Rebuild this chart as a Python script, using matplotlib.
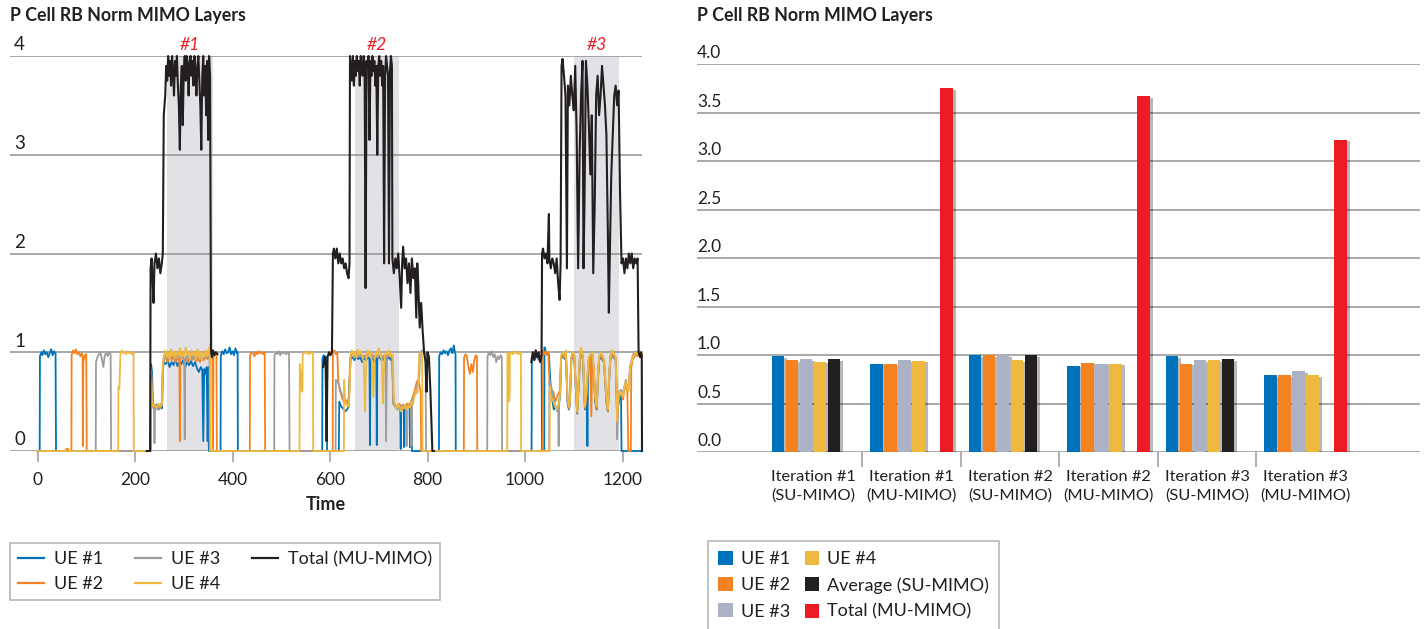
import numpy as np
import matplotlib
matplotlib.use("Agg")
import matplotlib.pyplot as plt
from matplotlib.lines import Line2D
from matplotlib.patches import Patch
import matplotlib.patheffects as pe

plt.rcParams['font.family'] = ['Lato', 'DejaVu Sans']

# ---------------- left panel: per-UE layer traces, (time, layers) ----------------
ue1_trace = [
    (0, 0), (4.5, 0), (5, 0.96), (8, 1.0), (10, 0.97), (13, 1.02), (16, 0.98), (19, 1.0), (22, 0.95),
    (25, 0.99), (28, 1.03), (31, 0.97), (34, 1.01), (37, 0.99), (38, 0),
    (232, 0), (233, 0.88), (235, 0.8), (236.5, 0.5), (240, 0.44), (244, 0.47), (248, 0.42), (252, 0.45),
    (255, 0.43), (257, 0.8), (259, 0.9), (263, 0.88), (267, 0.92), (271, 0.85), (275, 0.9), (279, 0.87),
    (283, 0.93), (287, 0.86), (291, 0.9), (295, 0.88), (299, 0.92), (303, 0.85), (307, 0.9), (311, 0.87),
    (315, 0.91), (319, 0.86), (323, 0.9), (327, 0.84), (331, 0.8), (335, 0.85), (338, 0.82), (340, 0.1),
    (342, 0.83), (345, 0.78), (347, 0.85), (349, 0.1), (350.5, 0.85), (351.5, 0),
    (375.5, 0), (376, 0.97), (379, 1.01), (382, 0.98), (385, 1.03), (388, 0.99), (391, 1.0), (394, 1.05),
    (397, 0.98), (400, 1.01), (403, 0.97), (406, 1.04), (409, 0.99), (410.5, 1.0), (411, 0),
    (584, 0), (584.5, 0.93), (587, 0.97), (589, 0.9), (591, 0.96), (593, 0.92), (594, 0),
    (618, 0), (619, 0.5), (623, 0.45), (627, 0.43), (631, 0.4), (635, 0.42), (638, 0.45), (640, 0.7),
    (642, 0.93), (646, 0.95), (650, 0.92), (654, 0.96), (658, 0.93), (662, 0.95), (666, 0.9), (670, 0.94),
    (674, 0.92), (678, 0.95), (681, 0.93), (682, 0.06), (683, 0.92), (687, 0.95), (691, 0.9), (695, 0.94),
    (696, 0.06), (697, 0.93), (701, 0.96), (705, 0.92), (709, 0.94), (713, 0.9), (717, 0.93), (721, 0.95),
    (725, 0.92), (728, 0.94), (730, 0.48), (734, 0.45), (738, 0.42), (742, 0.46), (744, 0.44), (745, 0.02),
    (746, 0.45), (749, 0.43), (751, 0.46), (752, 0.04), (753, 0.45), (757, 0.44), (761, 0.47), (763, 0.45),
    (764, 0.04), (765, 0.46), (767, 0.48), (768, 0),
    (823.5, 0), (824, 0.96), (827, 1.0), (830, 0.98), (833, 1.02), (836, 0.99), (839, 1.01), (842, 0.97),
    (845, 1.02), (848, 1.04), (851, 0.99), (854, 1.07), (856, 1.0), (857.5, 0.98), (858, 0),
    (1013.5, 0), (1014, 0.95), (1017, 0.98), (1020, 0.93), (1023, 0.97), (1026, 0.95), (1029, 0.92),
    (1032, 0.96), (1034, 0.95), (1035, 0), (1039.5, 0), (1040, 1.05), (1043, 1.0), (1046, 0.97),
    (1049, 0.98), (1052, 0.7), (1055, 0.55), (1059, 0.42), (1063, 0.45), (1067, 0.4), (1070, 0.5),
    (1072, 0.55), (1074, 0.93), (1078, 0.96), (1082, 0.93), (1084, 0.97), (1087, 0.5), (1090, 0.42),
    (1092, 0.47), (1095, 0.92), (1098, 0.96), (1101, 0.95), (1104, 0.65), (1107, 0.38), (1110, 0.65),
    (1113, 0.95), (1115, 1.0), (1119, 0.92), (1121, 0.65), (1123, 0.42), (1126, 0.55), (1127, 0.7),
    (1128, 0.05), (1129, 0.7), (1131, 0.92), (1134, 0.94), (1138, 0.96), (1141, 0.8), (1144, 0.5),
    (1147, 0.42), (1150, 0.75), (1152, 0.92), (1155, 0.96), (1158, 0.93), (1162, 0.9), (1165, 0.65),
    (1167, 0.5), (1170, 0.4), (1173, 0.75), (1175, 0.92), (1178, 0.96), (1180, 0.98), (1183, 0.94),
    (1186, 0.92), (1188, 0.55), (1189, 0.28), (1191, 0.45), (1194, 0.55), (1197, 0.55), (1198, 0),
    (1240, 0),
]

ue2_trace = [
    (0, 0), (57, 0), (59, 0.02), (63, 0.02), (64, 0), (69.5, 0), (70, 0.97), (73, 1.02), (76, 0.99),
    (79, 1.03), (82, 0.98), (85, 1.0), (88, 0.96), (91, 0.99), (92.5, 0.95), (93, 0.05), (94, 0.9),
    (97, 0.97), (100, 0.98), (101, 0),
    (232, 0), (233, 0.82), (235, 0.6), (236.5, 0.47), (240, 0.45), (244, 0.43), (248, 0.46), (252, 0.44),
    (255, 0.47), (257, 0.82), (259, 0.93), (263, 0.95), (267, 0.9), (271, 0.97), (275, 0.92), (279, 0.96),
    (283, 0.9), (287, 0.94), (291, 0.92), (292, 0.1), (293, 0.93), (297, 0.97), (301, 0.91), (305, 0.95),
    (309, 0.9), (313, 0.96), (317, 0.92), (321, 0.97), (325, 0.91), (329, 0.94), (333, 0.9), (337, 0.95),
    (341, 0.92), (345, 0.96), (349, 0.93), (353, 0.98), (356, 1.0), (359, 0.97), (360, 0.02), (361, 0.95),
    (364, 1.0), (367, 0.98), (368, 0),
    (435.5, 0), (436, 0.97), (439, 1.0), (442, 0.99), (445, 0.96), (448, 1.0), (451, 0.98), (454, 1.01),
    (457, 0.99), (460, 1.0), (463, 0.98), (466, 1.0), (467, 0),
    (605.5, 0), (606, 1.0), (609, 1.02), (612, 0.98), (615, 1.0), (617, 0.7), (620, 0.62), (624, 0.55),
    (628, 0.5), (632, 0.52), (636, 0.48), (639, 0.55), (641, 0.9), (643, 0.97), (647, 0.98), (651, 0.95),
    (655, 0.99), (659, 0.96), (663, 1.0), (667, 0.94), (671, 0.97), (675, 0.95), (679, 0.99), (683, 0.96),
    (687, 0.98), (691, 0.93), (695, 0.97), (699, 0.95), (703, 0.99), (707, 0.94), (711, 0.97), (715, 0.95),
    (719, 0.98), (723, 0.96), (727, 0.97), (730, 0.5), (734, 0.47), (738, 0.44), (742, 0.48), (746, 0.45),
    (750, 0.47), (754, 0.44), (758, 0.48), (762, 0.46), (766, 0.5), (770, 0.55), (774, 0.62), (778, 0.7),
    (781, 0.72), (784, 0.65), (786, 0.6), (787, 0),
    (874.5, 0), (875, 0.95), (878, 0.98), (881, 0.95), (884, 0.85), (887, 0.78), (890, 0.88), (893, 0.8),
    (896, 0.92), (899, 0.97), (901.5, 0.96), (902, 0),
    (1036.5, 0), (1037, 1.02), (1040, 0.98), (1043, 1.01), (1046, 0.97), (1048, 1.0), (1050, 0.7),
    (1054, 0.62), (1058, 0.6), (1062, 0.5), (1066, 0.55), (1070, 0.6), (1072, 0.6), (1074, 0.94),
    (1078, 0.97), (1082, 0.94), (1084, 0.98), (1087, 0.53), (1090, 0.43), (1092, 0.48), (1095, 0.93),
    (1098, 0.97), (1101, 0.96), (1104, 0.66), (1107, 0.39), (1110, 0.66), (1113, 0.97), (1115, 1.01),
    (1119, 0.93), (1121, 0.66), (1123, 0.43), (1126, 0.56), (1128, 0.72), (1131, 0.93), (1134, 0.95),
    (1136, 0.35), (1138, 0.97), (1141, 0.82), (1144, 0.52), (1147, 0.43), (1150, 0.77), (1152, 0.93),
    (1155, 0.97), (1158, 0.95), (1162, 0.9), (1165, 0.67), (1167, 0.52), (1170, 0.4), (1173, 0.77),
    (1175, 0.93), (1178, 0.97), (1180, 0.99), (1183, 0.95), (1186, 0.93), (1188, 0.57), (1189, 0.29),
    (1191, 0.47), (1193, 0.57), (1197, 0.57), (1201, 0.52), (1204, 0.62), (1207, 0.67), (1210, 0.59),
    (1212, 0), (1217, 0), (1218, 0.84), (1221, 0.93), (1224, 0.95), (1227, 0.98), (1230, 0.96),
    (1234, 0.98), (1238, 0.95), (1240, 0.97),
]

ue3_trace = [
    (0, 0), (119.5, 0), (120, 0.9), (123, 0.95), (126, 0.98), (129, 1.0), (132, 0.93), (135, 0.85),
    (138, 0.97), (141, 0.99), (144, 0.96), (147, 1.0), (150, 0.98), (151, 0),
    (232, 0), (233, 0.8), (236, 0.45), (239, 0.42), (240, 0.08), (241, 0.4), (244, 0.45), (248, 0.43),
    (252, 0.46), (256, 0.5), (258, 0.9), (263, 0.97), (267, 0.93), (271, 0.98), (275, 0.94), (279, 0.99),
    (283, 0.93), (287, 0.97), (291, 0.95), (295, 0.98), (299, 0.94), (301, 0.92), (302, 0.12), (303, 0.93),
    (307, 0.97), (311, 0.94), (315, 0.98), (319, 0.93), (323, 0.97), (327, 0.95), (331, 0.99), (335, 0.93),
    (339, 0.96), (343, 0.94), (347, 0.97), (351, 0.95), (353, 0.96), (353.5, 0),
    (485.5, 0), (486, 0.97), (489, 1.0), (492, 0.98), (495, 1.01), (498, 0.97), (501, 1.0), (504, 0.99),
    (507, 1.0), (510, 0.98), (513, 1.0), (516, 0.99), (517, 0),
    (611.5, 0), (612, 0.72), (616, 0.7), (619, 0.66), (622, 0.6), (626, 0.55), (630, 0.5), (634, 0.48),
    (638, 0.52), (640, 0.65), (642, 0.95), (646, 0.98), (650, 0.94), (654, 0.97), (658, 0.95), (662, 0.99),
    (666, 0.94), (670, 0.96), (674, 0.93), (678, 0.98), (682, 0.95), (686, 0.97), (690, 0.94), (694, 0.98),
    (698, 0.95), (702, 0.97), (706, 0.94), (710, 0.96), (714, 0.93), (715, 0.1), (716.5, 0.94), (720, 0.97),
    (724, 0.95), (728, 0.96), (730, 0.5), (734, 0.45), (738, 0.43), (742, 0.46), (746, 0.44), (750, 0.47),
    (754, 0.43), (756, 0.45), (757, 0.05), (758, 0.45), (762, 0.46), (766, 0.48), (767, 0.05), (768, 0.5),
    (772, 0.55), (776, 0.6), (780, 0.68), (783, 0.75), (785, 1.0), (789, 1.02), (793, 0.98), (796, 1.0),
    (797, 0),
    (922.5, 0), (923, 0.95), (926, 1.0), (929, 0.97), (932, 1.01), (935, 0.95), (938, 0.98), (941, 0.9),
    (944, 0.96), (947, 0.93), (950, 0.97), (952.5, 0.95), (953, 0),
    (1049.5, 0), (1050, 0.7), (1054, 0.65), (1058, 0.55), (1062, 0.45), (1066, 0.42), (1068, 0.4),
    (1069, 0.05), (1070, 0.45), (1072, 0.6), (1074, 0.96), (1078, 1.0), (1082, 0.97), (1084, 1.01),
    (1087, 0.56), (1090, 0.46), (1092, 0.51), (1095, 0.96), (1098, 1.0), (1101, 0.98), (1104, 0.7),
    (1107, 0.42), (1110, 0.7), (1113, 0.99), (1115, 1.02), (1119, 0.96), (1121, 0.7), (1123, 0.46),
    (1126, 0.6), (1128, 0.75), (1131, 0.95), (1134, 0.97), (1138, 1.0), (1141, 0.85), (1144, 0.56),
    (1147, 0.46), (1150, 0.8), (1152, 0.95), (1155, 1.0), (1158, 0.97), (1162, 0.93), (1165, 0.7),
    (1167, 0.56), (1170, 0.43), (1173, 0.8), (1175, 0.96), (1178, 1.0), (1180, 1.01), (1183, 0.97),
    (1186, 0.95), (1188, 0.6), (1189, 0.12), (1191, 0.5), (1193, 0.6), (1197, 0.62), (1201, 0.57),
    (1204, 0.66), (1207, 0.72), (1210, 0.63), (1212, 0.62), (1214, 0.77), (1216, 0.87), (1219, 0.92),
    (1221, 0.97), (1224, 0.99), (1227, 1.01), (1230, 0.99), (1234, 1.01), (1238, 0.98), (1240, 1.0),
]

ue4_trace = [
    (0, 0), (165.5, 0), (166, 0.65), (168, 0.63), (170, 0.98), (173, 1.02), (176, 0.99), (179, 1.0),
    (182, 0.98), (185, 1.01), (188, 0.99), (191, 1.0), (194, 0.98), (197, 1.0), (197.5, 0),
    (232, 0), (233, 0.7), (235, 0.5), (237, 0.45), (240, 0.47), (244, 0.44), (248, 0.48), (252, 0.45),
    (255, 0.47), (257, 0.85), (259, 0.97), (262, 1.02), (265, 0.95), (268, 1.0), (271, 0.93), (274, 1.03),
    (277, 0.96), (280, 1.01), (283, 0.94), (286, 1.0), (289, 0.97), (292, 1.04), (295, 0.95), (298, 1.0),
    (301, 0.96), (304, 1.05), (307, 0.97), (310, 1.0), (313, 0.94), (316, 1.02), (319, 0.97), (322, 1.0),
    (325, 0.93), (328, 1.03), (331, 0.96), (334, 1.01), (337, 0.92), (340, 1.0), (343, 0.95), (346, 1.02),
    (349, 0.96), (352, 1.04), (354, 1.08), (354.5, 0),
    (537.5, 0), (538, 0.88), (540, 0.8), (542, 0.6), (543.5, 0.62), (544, 0.98), (547, 1.0), (550, 0.99),
    (553, 1.01), (556, 0.98), (559, 1.0), (562, 0.99), (565, 1.0), (565.5, 0),
    (628.5, 0), (629, 0.72), (631, 0.5), (634, 0.47), (637, 0.45), (640, 0.55), (642, 0.97), (645, 1.02),
    (648, 0.96), (651, 1.0), (654, 0.95), (657, 1.03), (660, 0.98), (663, 1.01), (666, 0.96), (669, 0.9),
    (671, 0.6), (672, 0.4), (673, 0.7), (675, 0.97), (678, 1.02), (681, 0.96), (684, 1.0), (687, 0.85),
    (689, 0.55), (691, 0.9), (694, 1.0), (697, 0.97), (700, 1.04), (703, 0.98), (706, 0.93), (708, 0.6),
    (709, 0.48), (710, 0.75), (712, 0.95), (715, 1.0), (718, 0.97), (721, 1.02), (724, 0.96), (727, 0.98),
    (729, 0.97), (731, 0.5), (734, 0.46), (737, 0.42), (740, 0.47), (743, 0.44), (746, 0.4), (749, 0.45),
    (752, 0.43), (755, 0.47), (758, 0.42), (761, 0.46), (764, 0.44), (767, 0.5), (770, 0.47), (773, 0.55),
    (776, 0.62), (779, 0.58), (781, 0.7), (783, 0.98), (786, 1.0), (789, 0.97), (790, 0),
    (963.5, 0), (964, 1.0), (966, 0.95), (967, 0.5), (968.5, 0.55), (969, 0.98), (972, 1.0), (975, 0.98),
    (978, 1.01), (981, 0.99), (984, 1.0), (987, 0.98), (990, 1.0), (991.5, 1.0), (992, 0),
    (1050.5, 0), (1051, 0.65), (1054, 0.55), (1058, 0.5), (1062, 0.45), (1066, 0.42), (1070, 0.5),
    (1072, 0.6), (1074, 0.97), (1078, 1.0), (1082, 0.96), (1084, 1.02), (1087, 0.55), (1090, 0.45),
    (1092, 0.5), (1095, 0.95), (1098, 1.0), (1101, 0.98), (1104, 0.7), (1107, 0.4), (1110, 0.7),
    (1113, 1.0), (1115, 1.05), (1119, 0.95), (1121, 0.7), (1123, 0.45), (1126, 0.6), (1128, 0.75),
    (1131, 0.95), (1134, 0.97), (1138, 1.0), (1141, 0.85), (1144, 0.55), (1147, 0.45), (1150, 0.8),
    (1152, 0.95), (1155, 1.0), (1158, 0.97), (1162, 0.92), (1165, 0.7), (1167, 0.55), (1170, 0.42),
    (1173, 0.8), (1175, 0.95), (1178, 1.0), (1180, 1.02), (1183, 0.97), (1186, 0.95), (1188, 0.6),
    (1189, 0.3), (1191, 0.5), (1193, 0.6), (1197, 0.6), (1201, 0.55), (1204, 0.65), (1207, 0.7),
    (1210, 0.62), (1212, 0.6), (1214, 0.75), (1216, 0.85), (1219, 0.9), (1221, 0.95), (1224, 0.97),
    (1227, 1.0), (1230, 0.98), (1234, 1.0), (1238, 0.97), (1240, 1.0),
]

# total layers, logged only while the MU-MIMO runs are active
total_run1 = [
    (224, 0), (231, 0), (232, 1.85), (234, 1.95), (236, 1.75), (238, 1.5), (240, 1.9), (243, 2.0),
    (246, 1.85), (249, 1.95), (252, 1.8), (255, 1.9), (257, 2.0), (259, 3.4), (262, 3.6), (264, 3.9),
    (266, 3.75), (268, 4.0), (270, 3.8), (272, 3.95), (274, 3.7), (276, 4.0), (278, 3.85), (280, 3.6),
    (282, 3.95), (284, 3.8), (286, 4.0), (288, 3.7), (290, 3.5), (292, 3.05), (294, 3.7), (296, 3.9),
    (298, 3.3), (300, 3.85), (302, 4.0), (304, 3.75), (306, 4.0), (308, 3.9), (310, 3.6), (312, 3.95),
    (314, 4.0), (316, 3.8), (318, 3.95), (320, 3.7), (322, 4.0), (324, 3.85), (326, 3.6), (328, 3.9),
    (330, 4.0), (332, 3.75), (334, 3.5), (336, 3.05), (338, 3.8), (340, 4.0), (342, 3.6), (344, 3.9),
    (346, 3.4), (348, 3.95), (350, 3.15), (352, 4.0), (354, 3.8), (356, 1.0), (358, 0.95), (360, 1.02),
    (363, 0.97), (366, 1.0), (369, 0.98),
]
total_run2 = [
    (586, 0.85), (589, 0.95), (591, 0.9), (593, 0.1), (595, 0.95), (598, 1.0), (601, 0.97), (604, 1.0),
    (606, 2.0), (608, 2.05), (611, 1.95), (614, 2.05), (617, 1.9), (620, 2.0), (623, 1.9), (626, 1.95),
    (629, 1.85), (632, 1.9), (635, 1.8), (638, 1.75), (640, 1.9), (641, 4.0), (643, 3.9), (645, 3.75),
    (647, 4.0), (649, 3.7), (651, 3.95), (653, 3.8), (655, 4.0), (657, 3.85), (659, 3.95), (661, 3.7),
    (663, 4.0), (665, 3.9), (667, 3.8), (669, 4.0), (671, 3.9), (673, 1.65), (675, 3.95), (677, 3.9),
    (679, 4.0), (681, 3.15), (683, 3.95), (685, 3.8), (687, 4.0), (689, 3.85), (691, 3.95), (693, 3.7),
    (695, 3.9), (697, 3.0), (699, 3.9), (701, 4.0), (703, 3.8), (705, 3.95), (707, 3.7), (709, 3.9),
    (711, 1.9), (713, 3.8), (715, 4.0), (717, 3.9), (719, 3.8), (721, 1.9), (723, 3.85), (725, 4.0),
    (727, 3.9), (728, 1.95), (731, 1.8), (734, 1.95), (737, 1.85), (740, 2.0), (743, 1.75), (746, 1.45),
    (748, 1.9), (750, 2.07), (753, 1.85), (756, 1.95), (759, 1.7), (762, 1.9), (765, 1.6), (768, 1.95),
    (771, 1.75), (774, 1.85), (777, 1.35), (779, 1.9), (781, 1.7), (784, 1.25), (787, 1.5), (790, 1.22),
    (793, 1.0), (796, 0.9), (798, 0.6), (800, 1.0), (803, 0.95), (806, 0.6), (810, 0), (813, 0),
]
total_run3 = [
    (1013, 0.9), (1016, 1.0), (1019, 0.92), (1022, 1.02), (1025, 0.95), (1028, 1.0), (1031, 0.9),
    (1034, 0.97), (1035, 2.0), (1037, 2.05), (1040, 1.95), (1043, 2.0), (1046, 1.9), (1049, 2.4),
    (1050, 1.95), (1053, 1.85), (1056, 1.95), (1059, 1.9), (1062, 1.8), (1065, 1.95), (1068, 1.7),
    (1071, 1.53), (1073, 1.9), (1075, 3.9), (1077, 3.97), (1080, 3.8), (1083, 3.6), (1086, 1.85),
    (1088, 3.7), (1091, 3.5), (1094, 3.8), (1097, 3.6), (1100, 3.45), (1103, 3.9), (1106, 3.2),
    (1109, 1.85), (1112, 3.0), (1115, 3.6), (1118, 3.95), (1120, 1.85), (1122, 2.5), (1125, 3.95),
    (1128, 3.7), (1131, 3.3), (1134, 2.8), (1137, 3.4), (1140, 1.8), (1143, 2.5), (1146, 3.6),
    (1149, 3.8), (1152, 3.4), (1155, 3.6), (1158, 3.9), (1161, 3.7), (1164, 3.5), (1167, 3.2),
    (1170, 2.2), (1172, 1.4), (1174, 2.0), (1177, 2.8), (1180, 3.2), (1183, 3.6), (1186, 3.7),
    (1189, 3.5), (1192, 3.65), (1195, 2.6), (1198, 1.9), (1201, 1.95), (1204, 1.8), (1207, 1.95),
    (1210, 1.85), (1213, 2.0), (1216, 1.9), (1219, 2.0), (1222, 1.85), (1225, 1.95), (1228, 1.9),
    (1231, 1.95), (1233, 1.0), (1236, 0.95), (1238, 1.0), (1239.5, 0.97), (1240, 0.0),
]

mu_windows = [(266, 359), (651, 742), (1101, 1192)]
mu_window_labels = ["#1", "#2", "#3"]
time_ticks = [0, 200, 400, 600, 800, 1000, 1200]
layer_ticks = [0, 1, 2, 3, 4]

# ---------------- right panel: mean layers per iteration ----------------
iteration_labels = [
    "Iteration #1\n(SU-MIMO)", "Iteration #1\n(MU-MIMO)",
    "Iteration #2\n(SU-MIMO)", "Iteration #2\n(MU-MIMO)",
    "Iteration #3\n(SU-MIMO)", "Iteration #3\n(MU-MIMO)",
]
ue1_mean = [0.99, 0.91, 1.00, 0.89, 0.99, 0.79]
ue2_mean = [0.95, 0.91, 1.00, 0.92, 0.91, 0.79]
ue3_mean = [0.96, 0.95, 1.00, 0.91, 0.95, 0.83]
ue4_mean = [0.93, 0.94, 0.95, 0.91, 0.95, 0.79]
su_average = [0.96, None, 1.00, None, 0.96, None]
mu_total = [None, 3.75, None, 3.67, None, 3.22]
bar_ticks = [0.0, 0.5, 1.0, 1.5, 2.0, 2.5, 3.0, 3.5, 4.0]

# ---------------- styling ----------------
C_UE1 = "#0072bc"
C_UE2 = "#f58220"
C_UE3_LINE = "#9d9d9d"
C_UE3_BAR = "#acb2c6"
C_UE4 = "#efb93f"
C_BLACK = "#231f20"
C_RED = "#ed1c24"
C_GRID = "#9a9a9a"
C_SHADE = "#e1e1e6"
C_TEXT = "#231f20"

W, H = 1426, 629
fig = plt.figure(figsize=(W / 100, H / 100), dpi=100)


def fx(px):
    return px / W


def fy(py):
    return 1 - py / H


def px_to_time(px):
    return (px - 37.5) / 0.4875


# ---------------- left panel ----------------
ax1 = fig.add_axes([fx(10), fy(451), (642 - 10) / W, (451 - 56) / H])
ax1.set_xlim(px_to_time(10), px_to_time(642))
ax1.set_ylim(0, 4)
for s in ax1.spines.values():
    s.set_visible(False)

for (a, b), lab in zip(mu_windows, mu_window_labels):
    ax1.axvspan(a, b, color=C_SHADE, lw=0, zorder=0)
    ax1.text((a + b) / 2, 4.03, lab, color=C_RED, style='italic', fontsize=12.5,
             ha='center', va='bottom', clip_on=False)

for v in layer_ticks:
    ax1.axhline(v, color=C_GRID, lw=1.2, zorder=1)
    ax1.annotate(str(v), xy=(0, v), xycoords=('axes fraction', 'data'), xytext=(3, 4),
                 textcoords='offset points', fontsize=13.5, ha='left', va='baseline', color=C_TEXT)

traces = [(ue1_trace, C_UE1, "UE #1"), (ue2_trace, C_UE2, "UE #2"),
          (ue3_trace, C_UE3_LINE, "UE #3"), (ue4_trace, C_UE4, "UE #4")]
for i, (tr, col, lab) in enumerate(traces):
    t, v = np.array(tr, dtype=float).T
    ax1.plot(t, v, color=col, lw=1.3, zorder=3 + i, clip_on=False, label=lab)

for k, run in enumerate([total_run1, total_run2, total_run3]):
    t, v = np.array(run, dtype=float).T
    ax1.plot(t, v, color=C_BLACK, lw=1.5, zorder=8, clip_on=False,
             label="Total (MU-MIMO)" if k == 0 else None)

ax1.set_yticks([])
ax1.set_xticks(time_ticks)
ax1.set_xticklabels([str(t) for t in time_ticks], fontsize=12.5, color=C_TEXT)
ax1.tick_params(axis='x', length=8, width=1.1, color=C_GRID, pad=7)
ax1.set_xlabel("Time", fontsize=13, fontweight='bold', labelpad=6, color=C_TEXT)

fig.text(fx(10), fy(15), "P Cell RB Norm MIMO Layers", fontsize=12.8, fontweight='bold',
         ha='left', va='center', color=C_TEXT)

line_handles = [Line2D([], [], color=c, lw=1.6) for c in [C_UE1, C_UE2, C_UE3_LINE, C_UE4, C_BLACK]]
leg1 = fig.legend(line_handles, ["UE #1", "UE #2", "UE #3", "UE #4", "Total (MU-MIMO)"],
                  ncol=3, loc='upper left', bbox_to_anchor=(fx(10), fy(543)), borderaxespad=0,
                  frameon=True, fancybox=False, edgecolor='#a6a6a6', fontsize=13,
                  handlelength=1.45, handletextpad=0.55, columnspacing=1.75, labelspacing=0.5,
                  borderpad=0.45)
leg1.get_frame().set_linewidth(1.2)
for txt in leg1.get_texts():
    txt.set_color(C_TEXT)

# ---------------- right panel ----------------
slot = 14 / 98.5
bar_w = 12.5 / 98.5
ax2 = fig.add_axes([fx(697), fy(452), (1420 - 697) / W, (452 - 64) / H])
ax2.set_xlim(-(813 - 697) / 98.5, -(813 - 697) / 98.5 + (1420 - 697) / 98.5)
ax2.set_ylim(0, 4)
for s in ax2.spines.values():
    s.set_visible(False)

for v in bar_ticks:
    ax2.axhline(v, color='#a3a3a3', lw=1.3, zorder=1)
    ax2.annotate(f"{v:.1f}", xy=(0, v), xycoords=('axes fraction', 'data'), xytext=(0, 4),
                 textcoords='offset points', fontsize=12.5, ha='left', va='baseline', color=C_TEXT)

series = [(ue1_mean, C_UE1), (ue2_mean, C_UE2), (ue3_mean, C_UE3_BAR), (ue4_mean, C_UE4),
          (su_average, C_BLACK), (mu_total, C_RED)]
shadow = [pe.SimplePatchShadow(offset=(2.2, -1.2), shadow_rgbFace='#000000', alpha=0.28), pe.Normal()]
xs = np.arange(len(iteration_labels))
for k, (vals, col) in enumerate(series):
    for x, v in zip(xs, vals):
        if v is None:
            continue
        bars = ax2.bar(x + (k - 2.5) * slot, v, width=bar_w, color=col, lw=0, zorder=3)
        for b in bars:
            b.set_path_effects(shadow)

ax2.set_yticks([])
ax2.set_xticks(xs[:-1] + 0.5, minor=False)
ax2.set_xticklabels([])
ax2.tick_params(axis='x', length=11, width=1.1, color=C_GRID)
for x, lab in zip(xs, iteration_labels):
    ax2.text(x, -0.19, lab, ha='center', va='top', fontsize=11.8, linespacing=1.35,
             color=C_TEXT, transform=ax2.transData)

fig.text(fx(697), fy(15), "P Cell RB Norm MIMO Layers", fontsize=12.8, fontweight='bold',
         ha='left', va='center', color=C_TEXT)

patch_handles = [Patch(facecolor=c, edgecolor='none') for c in
                 [C_UE1, C_UE2, C_UE3_BAR, C_UE4, C_BLACK, C_RED]]
leg2 = fig.legend(patch_handles, ["UE #1", "UE #2", "UE #3", "UE #4", "Average (SU-MIMO)",
                                  "Total (MU-MIMO)"],
                  ncol=2, loc='upper left', bbox_to_anchor=(fx(708), fy(541)), borderaxespad=0,
                  frameon=True, fancybox=False, edgecolor='#a6a6a6', fontsize=13,
                  handlelength=0.82, handleheight=0.82, handletextpad=0.45, columnspacing=0.8,
                  labelspacing=0.55, borderpad=0.55)
leg2.get_frame().set_linewidth(1.2)
for txt in leg2.get_texts():
    txt.set_color(C_TEXT)

fig.savefig("out.png", dpi=100)
